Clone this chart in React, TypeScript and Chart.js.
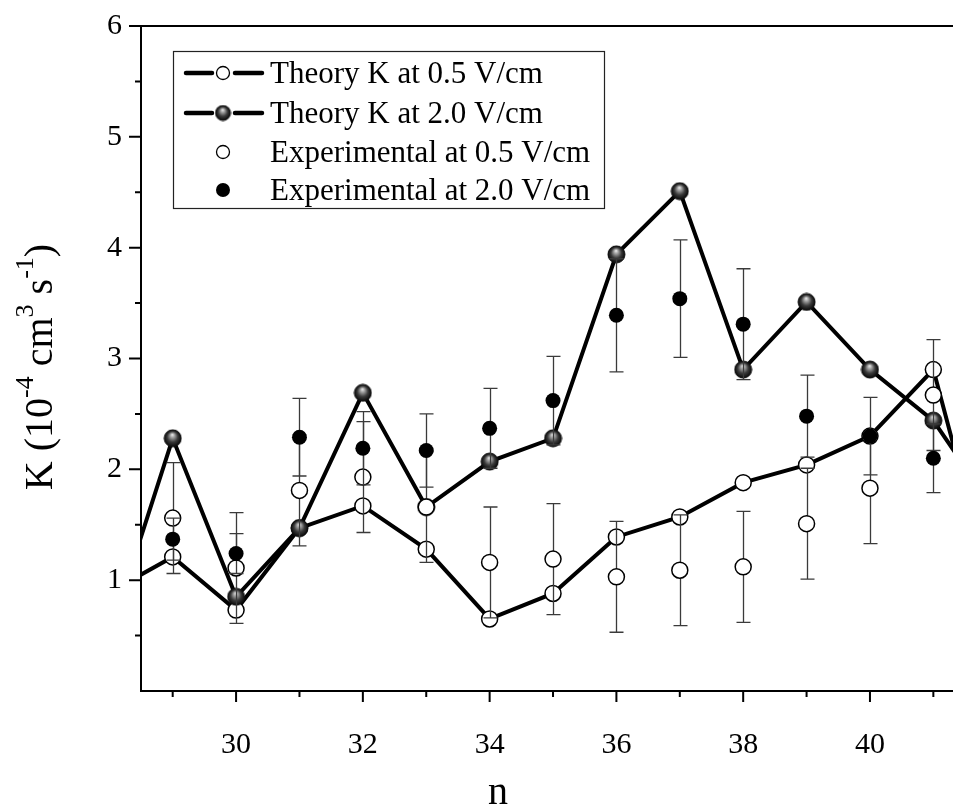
import React, { useEffect, useRef } from "react";
import { Chart, registerables } from "chart.js";

Chart.register(...registerables);

const SERIF = "'Liberation Serif', 'Times New Roman', Times, serif";

// ---- data ----
const N_THEORY = [28, 29, 30, 31, 32, 33, 34, 35, 36, 37, 38, 39, 40, 41, 42];
const THEORY_05 = [0.89, 1.21, 0.73, 1.47, 1.67, 1.28, 0.65, 0.88, 1.39, 1.57, 1.88, 2.04, 2.3, 2.9, 0.75];
const THEORY_20 = [0.5, 2.28, 0.85, 1.47, 2.69, 1.66, 2.07, 2.28, 3.94, 4.51, 2.9, 3.51, 2.9, 2.44, 1.6];

const N_EXP = [29, 30, 31, 32, 33, 34, 35, 36, 37, 38, 39, 40, 41];
const EXP_05 = [1.56, 1.11, 1.81, 1.93, 1.66, 1.16, 1.19, 1.03, 1.09, 1.12, 1.51, 1.83, 2.67];
const EXP_05_ERR = [0.5, 0.5, 0.5, 0.5, 0.5, 0.5, 0.5, 0.5, 0.5, 0.5, 0.5, 0.5, 0.5];
const EXP_20 = [1.37, 1.24, 2.29, 2.19, 2.17, 2.37, 2.62, 3.39, 3.54, 3.31, 2.48, 2.3, 2.1];
const EXP_20_ERR = [0.19, 0.18, 0.35, 0.33, 0.33, 0.36, 0.4, 0.51, 0.53, 0.5, 0.37, 0.35, 0.31];

const X_TICKS = [30, 32, 34, 36, 38, 40];
const X_MINOR = [29, 31, 33, 35, 37, 39, 41];
const Y_TICKS = [1, 2, 3, 4, 5, 6];
const Y_MINOR = [0.5, 1.5, 2.5, 3.5, 4.5, 5.5];
const X_MIN = 28.5;
const X_MAX = 41.31;
const Y_MIN = 0;
const Y_MAX = 6;

const LEGEND_LABELS = [
  "Theory K at 0.5 V/cm",
  "Theory K at 2.0 V/cm",
  "Experimental at 0.5 V/cm",
  "Experimental at 2.0 V/cm",
];
const X_TITLE = "n";

function makeSphere(r: number): HTMLCanvasElement {
  const size = Math.ceil(r * 2 + 2);
  const c = document.createElement("canvas");
  c.width = size;
  c.height = size;
  const g = c.getContext("2d")!;
  const cx = size / 2;
  const cy = size / 2;
  g.beginPath();
  g.arc(cx, cy, r, 0, Math.PI * 2);
  g.fillStyle = "#000";
  g.fill();
  const grad = g.createRadialGradient(cx - r * 0.05, cy - r * 0.45, 0, cx, cy, r);
  grad.addColorStop(0, "#f6f6f6");
  grad.addColorStop(0.25, "#a4a4a4");
  grad.addColorStop(0.62, "#3a3a3a");
  grad.addColorStop(1, "#080808");
  g.beginPath();
  g.arc(cx, cy, r, 0, Math.PI * 2);
  g.fillStyle = grad;
  g.fill();
  g.lineWidth = 1;
  g.strokeStyle = "#111";
  g.stroke();
  return c;
}

function zip(xs: number[], ys: number[]) {
  return xs.map((x, i) => ({ x, y: ys[i] }));
}

export default function App() {
  const ref = useRef<HTMLCanvasElement | null>(null);

  useEffect(() => {
    const canvas = ref.current;
    if (!canvas) return;
    const sphere = makeSphere(8.5);
    const sphereSmall = makeSphere(7.5);

    const decor = {
      id: "decor",
      beforeDatasetDraw(chart: any, args: any) {
        const ds = chart.data.datasets[args.index] as any;
        if (!ds.errors) return;
        const xs = chart.scales.x;
        const ys = chart.scales.y;
        const ctx = chart.ctx as CanvasRenderingContext2D;
        const a = chart.chartArea;
        ctx.save();
        ctx.beginPath();
        ctx.rect(a.left, a.top, a.right - a.left, a.bottom - a.top);
        ctx.clip();
        ctx.strokeStyle = "#3a3a3a";
        ctx.lineWidth = 1.3;
        ds.data.forEach((p: any, i: number) => {
          const e = ds.errors[i];
          const px = Math.round(xs.getPixelForValue(p.x)) + 0.5;
          const top = ys.getPixelForValue(p.y + e);
          const bot = ys.getPixelForValue(p.y - e);
          ctx.beginPath();
          ctx.moveTo(px, top);
          ctx.lineTo(px, bot);
          ctx.moveTo(px - 7, top);
          ctx.lineTo(px + 7, top);
          ctx.moveTo(px - 7, bot);
          ctx.lineTo(px + 7, bot);
          ctx.stroke();
        });
        ctx.restore();
      },
      afterDraw(chart: any) {
        const ctx = chart.ctx as CanvasRenderingContext2D;
        const a = chart.chartArea;
        const xs = chart.scales.x;
        const ys = chart.scales.y;
        ctx.save();
        // frame
        ctx.strokeStyle = "#000";
        ctx.lineWidth = 2;
        ctx.beginPath();
        ctx.moveTo(a.right, a.top);
        ctx.lineTo(a.left, a.top);
        ctx.lineTo(a.left, a.bottom);
        ctx.lineTo(a.right, a.bottom);
        ctx.stroke();
        // ticks
        ctx.lineWidth = 2;
        ctx.beginPath();
        X_TICKS.forEach((v) => {
          const px = xs.getPixelForValue(v);
          ctx.moveTo(px, a.bottom);
          ctx.lineTo(px, a.bottom + 11);
        });
        X_MINOR.forEach((v) => {
          const px = xs.getPixelForValue(v);
          ctx.moveTo(px, a.bottom);
          ctx.lineTo(px, a.bottom + 6);
        });
        Y_TICKS.forEach((v) => {
          const py = ys.getPixelForValue(v);
          ctx.moveTo(a.left, py);
          ctx.lineTo(a.left - 12, py);
        });
        Y_MINOR.forEach((v) => {
          const py = ys.getPixelForValue(v);
          ctx.moveTo(a.left, py);
          ctx.lineTo(a.left - 6, py);
        });
        ctx.stroke();

        // x title
        ctx.fillStyle = "#000";
        ctx.font = `40px ${SERIF}`;
        ctx.textAlign = "center";
        ctx.textBaseline = "alphabetic";
        ctx.fillText(X_TITLE, 498, 804);

        // y title with superscripts
        const parts: [string, boolean][] = [
          ["K (10", false],
          ["-4", true],
          [" cm", false],
          ["3", true],
          [" s", false],
          ["-1", true],
          [")", false],
        ];
        const big = `40px ${SERIF}`;
        const small = `26px ${SERIF}`;
        let total = 0;
        const widths = parts.map(([t, sup]) => {
          ctx.font = sup ? small : big;
          const w = ctx.measureText(t).width;
          total += w;
          return w;
        });
        ctx.save();
        ctx.translate(52, 367);
        ctx.rotate(-Math.PI / 2);
        ctx.textAlign = "left";
        let cx = -total / 2;
        parts.forEach(([t, sup], i) => {
          ctx.font = sup ? small : big;
          ctx.fillText(t, cx, sup ? -19 : 0);
          cx += widths[i];
        });
        ctx.restore();

        // legend
        const L = { x: 173, y: 51, w: 431, h: 157 };
        ctx.lineWidth = 1.2;
        ctx.strokeStyle = "#222";
        ctx.strokeRect(L.x + 0.5, L.y + 0.5, L.w, L.h);
        const rowsY = [73, 113, 152, 190];
        const baseY = [83, 123, 161.5, 200];
        const mx = 223;
        ctx.font = `31px ${SERIF}`;
        ctx.textAlign = "left";
        ctx.textBaseline = "alphabetic";
        LEGEND_LABELS.forEach((lab, i) => {
          const y = rowsY[i];
          if (i < 2) {
            ctx.strokeStyle = "#000";
            ctx.lineWidth = 4.5;
            ctx.lineCap = "round";
            ctx.beginPath();
            ctx.moveTo(186, y);
            ctx.lineTo(212, y);
            ctx.moveTo(235, y);
            ctx.lineTo(262, y);
            ctx.stroke();
            ctx.lineCap = "butt";
          }
          if (i === 0 || i === 2) {
            ctx.beginPath();
            ctx.arc(mx, y, 6.5, 0, Math.PI * 2);
            ctx.fillStyle = "#fff";
            ctx.fill();
            ctx.lineWidth = 1.3;
            ctx.strokeStyle = "#000";
            ctx.stroke();
          } else if (i === 1) {
            ctx.drawImage(sphereSmall, mx - sphereSmall.width / 2, y - sphereSmall.height / 2);
          } else {
            ctx.beginPath();
            ctx.arc(mx, y, 7, 0, Math.PI * 2);
            ctx.fillStyle = "#000";
            ctx.fill();
          }
          ctx.fillStyle = "#000";
          ctx.fillText(lab, 270, baseY[i]);
        });
        ctx.restore();
      },
    };

    const chart = new Chart(canvas, {
      type: "line",
      data: {
        datasets: [
          {
            label: LEGEND_LABELS[0],
            data: zip(N_THEORY, THEORY_05),
            borderColor: "#000",
            borderWidth: 4,
            pointStyle: "circle",
            pointRadius: 8,
            pointBackgroundColor: "#fff",
            pointBorderColor: "#000",
            pointBorderWidth: 1.5,
            tension: 0,
            clip: 0,
            order: 4,
          } as any,
          {
            label: LEGEND_LABELS[1],
            data: zip(N_THEORY, THEORY_20),
            borderColor: "#000",
            borderWidth: 4,
            pointStyle: sphere,
            pointRadius: 8.5,
            tension: 0,
            clip: 0,
            order: 3,
          } as any,
          {
            label: LEGEND_LABELS[2],
            data: zip(N_EXP, EXP_05),
            errors: EXP_05_ERR,
            showLine: false,
            pointStyle: "circle",
            pointRadius: 8,
            pointBackgroundColor: "#fff",
            pointBorderColor: "#000",
            pointBorderWidth: 1.5,
            clip: 0,
            order: 2,
          } as any,
          {
            label: LEGEND_LABELS[3],
            data: zip(N_EXP, EXP_20),
            errors: EXP_20_ERR,
            showLine: false,
            pointStyle: "circle",
            pointRadius: 7.5,
            pointBackgroundColor: "#000",
            pointBorderColor: "#000",
            pointBorderWidth: 0,
            clip: 0,
            order: 1,
          } as any,
        ],
      },
      options: {
        responsive: false,
        animation: false,
        events: [],
        layout: { autoPadding: false, padding: { top: 26, right: 0, left: 0, bottom: 0 } },
        plugins: {
          legend: { display: false },
          tooltip: { enabled: false },
        },
        scales: {
          x: {
            type: "linear",
            min: X_MIN,
            max: X_MAX,
            grid: { display: false, drawTicks: false },
            border: { display: false },
            afterBuildTicks: (s: any) => {
              s.ticks = X_TICKS.map((v) => ({ value: v }));
            },
            afterFit: (s: any) => {
              s.height = 116;
              s.paddingLeft = 0;
              s.paddingRight = 0;
              s.paddingTop = 0;
              s.paddingBottom = 0;
            },
            ticks: {
              color: "#000",
              padding: 36,
              maxRotation: 0,
              autoSkip: false,
              font: { family: SERIF, size: 30 },
              callback: (v: any) => String(v),
            },
          },
          y: {
            type: "linear",
            min: Y_MIN,
            max: Y_MAX,
            grid: { display: false, drawTicks: false },
            border: { display: false },
            afterBuildTicks: (s: any) => {
              s.ticks = Y_TICKS.map((v) => ({ value: v }));
            },
            afterFit: (s: any) => {
              s.width = 141;
              s.paddingLeft = 0;
              s.paddingRight = 0;
              s.paddingTop = 0;
              s.paddingBottom = 0;
            },
            ticks: {
              color: "#000",
              padding: 19,
              autoSkip: false,
              font: { family: SERIF, size: 30 },
              callback: (v: any) => String(v),
            },
          },
        },
      } as any,
      plugins: [decor],
    });
    return () => chart.destroy();
  }, []);

  return (
    <div style={{ position: "absolute", left: 0, top: 0, width: 953, height: 807, background: "#fff" }}>
      <canvas ref={ref} width={953} height={807} style={{ width: 953, height: 807, display: "block" }} />
    </div>
  );
}
